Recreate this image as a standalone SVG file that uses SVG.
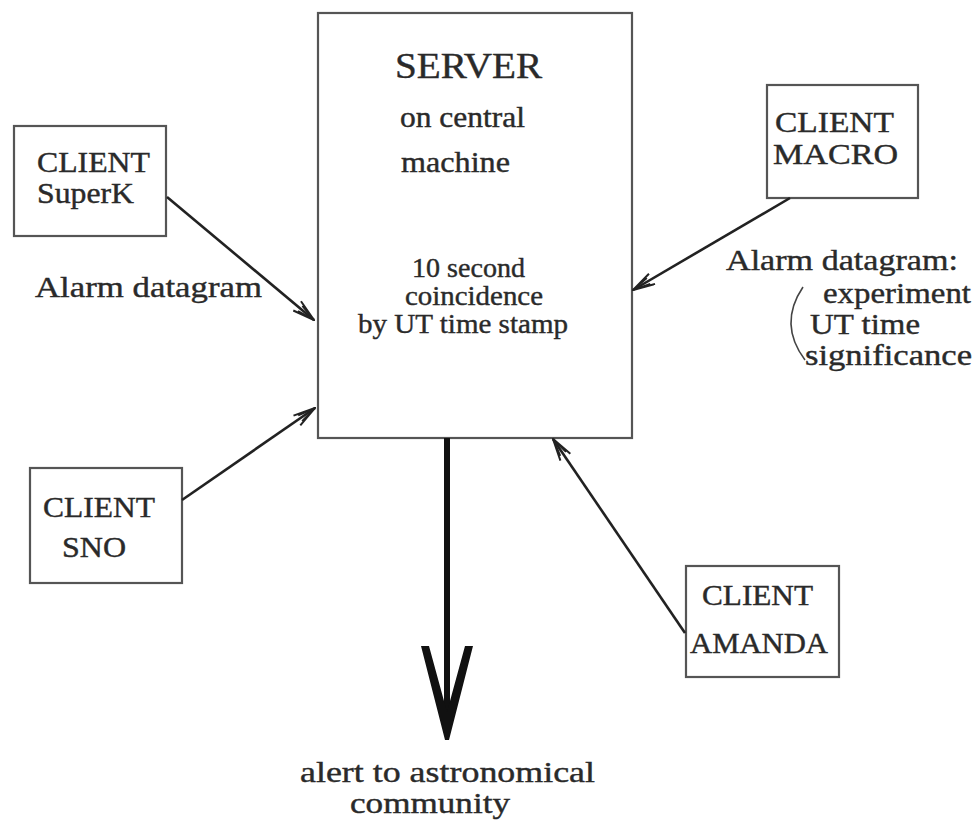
<svg xmlns="http://www.w3.org/2000/svg" width="976" height="828" viewBox="0 0 976 828">
<style>
text{font-family:"Liberation Serif","Times New Roman",serif;fill:#2a2a2a;font-size:29px;stroke:#2a2a2a;stroke-width:0.4}
.box{fill:#fff;stroke:#555;stroke-width:2.2}
.conn{stroke:#222;stroke-width:2.6;fill:none}
.sm{font-size:27px}
.lb{font-size:30px}
</style>
<defs>
<marker id="open" viewBox="0 0 24 14" refX="23" refY="7" markerWidth="24" markerHeight="14" markerUnits="userSpaceOnUse" orient="auto">
<path d="M1,1 L23,7 L1,13 M5,3.5 L23,7 L5,10.5" fill="none" stroke="#222" stroke-width="2"/>
</marker>
</defs>
<rect width="976" height="828" fill="#fff"/>
<g id="server">
<rect class="box" x="318" y="13" width="314" height="425"/>
<text x="395" y="78" style="font-size:35px" textLength="147" lengthAdjust="spacingAndGlyphs">SERVER</text>
<text x="400" y="127" textLength="125" lengthAdjust="spacingAndGlyphs">on central</text>
<text x="401" y="172" textLength="109" lengthAdjust="spacingAndGlyphs">machine</text>
<text class="sm" x="412" y="277" textLength="113" lengthAdjust="spacingAndGlyphs">10 second</text>
<text class="sm" x="405" y="305" textLength="138" lengthAdjust="spacingAndGlyphs">coincidence</text>
<text class="sm" x="358" y="333" textLength="210" lengthAdjust="spacingAndGlyphs">by UT time stamp</text>
</g>
<g id="client-superk">
<rect class="box" x="14" y="126" width="152" height="110"/>
<text x="37" y="172" textLength="113" lengthAdjust="spacingAndGlyphs">CLIENT</text>
<text x="37" y="203" textLength="97" lengthAdjust="spacingAndGlyphs">SuperK</text>
</g>
<g id="client-macro">
<rect class="box" x="767" y="85" width="151" height="113"/>
<text x="775" y="132" textLength="119" lengthAdjust="spacingAndGlyphs">CLIENT</text>
<text x="773" y="164" textLength="125" lengthAdjust="spacingAndGlyphs">MACRO</text>
</g>
<g id="client-sno">
<rect class="box" x="30" y="468" width="152" height="115"/>
<text x="43" y="517" textLength="112" lengthAdjust="spacingAndGlyphs">CLIENT</text>
<text x="62" y="557" textLength="64" lengthAdjust="spacingAndGlyphs">SNO</text>
</g>
<g id="client-amanda">
<rect class="box" x="686" y="566" width="153" height="111"/>
<text x="702" y="605" textLength="111" lengthAdjust="spacingAndGlyphs">CLIENT</text>
<text x="690" y="653" textLength="138" lengthAdjust="spacingAndGlyphs">AMANDA</text>
</g>
<g id="alert">
<text class="lb" x="300" y="782" textLength="295" lengthAdjust="spacingAndGlyphs">alert to astronomical</text>
<text class="lb" x="350" y="813" textLength="160" lengthAdjust="spacingAndGlyphs">community</text>
</g>
<g id="labels">
<text class="lb" x="35" y="297" textLength="227" lengthAdjust="spacingAndGlyphs">Alarm datagram</text>
<text class="lb" x="726" y="270" textLength="232" lengthAdjust="spacingAndGlyphs">Alarm datagram:</text>
<text class="lb" x="823" y="303" textLength="148" lengthAdjust="spacingAndGlyphs">experiment</text>
<text class="lb" x="810" y="334" textLength="110" lengthAdjust="spacingAndGlyphs">UT time</text>
<text class="lb" x="805" y="365" textLength="167" lengthAdjust="spacingAndGlyphs">significance</text>
<path d="M803,287 Q778,324 805,360" fill="none" stroke="#444" stroke-width="1.6"/>
</g>
<g id="connectors">
<line class="conn" x1="167" y1="197" x2="314" y2="320" marker-end="url(#open)"/>
<line class="conn" x1="182" y1="500" x2="315" y2="408" marker-end="url(#open)"/>
<line class="conn" x1="790" y1="198" x2="633" y2="290" marker-end="url(#open)"/>
<line class="conn" x1="685" y1="633" x2="553" y2="439" marker-end="url(#open)"/>
<line x1="447" y1="438" x2="447" y2="715" stroke="#111" stroke-width="6"/>
<polygon points="421,646 429,646 447,712 465,646 473,646 449,740 445,740" fill="#111"/>
</g>
</svg>
